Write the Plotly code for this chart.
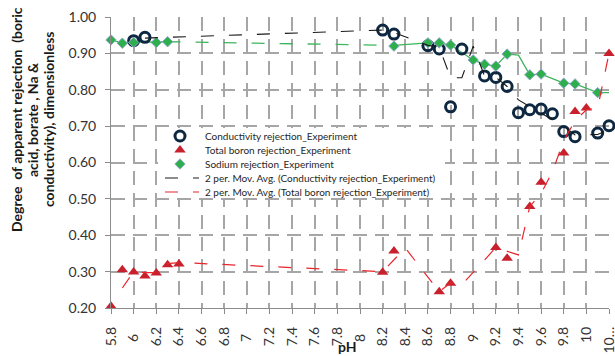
import plotly.graph_objects as go

# ---------------- data ----------------
x_ticks = [5.8, 6.0, 6.2, 6.4, 6.6, 6.8, 7.0, 7.2, 7.4, 7.6, 7.8, 8.0,
           8.2, 8.4, 8.6, 8.8, 9.0, 9.2, 9.4, 9.6, 9.8, 10.0, 10.2]
x_ticktext = ["5.8", "6", "6.2", "6.4", "6.6", "6.8", "7", "7.2", "7.4", "7.6", "7.8", "8",
              "8.2", "8.4", "8.6", "8.8", "9", "9.2", "9.4", "9.6", "9.8", "10", "10\u2026"]
y_ticks = [0.2, 0.3, 0.4, 0.5, 0.6, 0.7, 0.8, 0.9, 1.0]

cond_pH = [6.0, 6.1, 8.2, 8.3, 8.6, 8.7, 8.8, 8.9, 9.1, 9.2, 9.3, 9.4, 9.5, 9.6, 9.7, 9.8, 9.9, 10.1, 10.2]
cond_rej = [0.935, 0.944, 0.964, 0.953, 0.921, 0.912, 0.753, 0.912, 0.838, 0.834, 0.809, 0.737,
            0.745, 0.747, 0.734, 0.685, 0.671, 0.681, 0.701]

boron_pH = [5.8, 5.9, 6.0, 6.1, 6.2, 6.3, 6.4, 8.2, 8.3, 8.7, 8.8, 9.2, 9.3, 9.5, 9.6, 9.8, 9.9, 10.0, 10.2]
boron_rej = [0.205, 0.305, 0.299, 0.288, 0.296, 0.319, 0.321, 0.298, 0.357, 0.245, 0.268, 0.366,
             0.337, 0.479, 0.546, 0.626, 0.740, 0.750, 0.900]

sod_pH = [5.8, 5.9, 6.0, 6.2, 6.3, 8.3, 8.6, 8.7, 8.8, 9.0, 9.1, 9.2, 9.3, 9.5, 9.6, 9.8, 9.9, 10.1]
sod_rej = [0.937, 0.928, 0.930, 0.930, 0.932, 0.920, 0.929, 0.929, 0.923, 0.882, 0.870, 0.865,
           0.898, 0.841, 0.843, 0.818, 0.816, 0.792]

# green connecting line (as drawn in the source)
sod_line_pH = [5.8, 5.9, 6.0, 6.2, 6.3, 8.3, 8.6, 8.7, 8.8, 9.0, 9.1, 9.2, 9.3, 9.4, 9.5, 9.6, 9.8, 9.9, 10.1, 10.2]
sod_line_val = [0.937, 0.928, 0.930, 0.930, 0.932, 0.922, 0.929, 0.929, 0.923, 0.882, 0.870, 0.865,
                0.898, 0.895, 0.841, 0.843, 0.818, 0.816, 0.792, 0.792]

# 2 per. moving average lines (as drawn in the source)
cond_ma_pH = [6.1, 8.2, 8.3, 8.6, 8.7, 8.8, 8.9, 9.0, 9.1, 9.2, 9.3, 9.4, 9.8, 9.9, 10.1, 10.2]
cond_ma_val = [0.942, 0.964, 0.957, 0.922, 0.917, 0.833, 0.833, 0.920, 0.838, 0.834, 0.809, 0.772,
               0.700, 0.676, 0.677, 0.690]

boron_ma_pH = [5.9, 6.0, 6.1, 6.2, 6.3, 6.4, 8.2, 8.4, 8.7, 8.8, 8.9, 9.2, 9.4, 9.5, 9.6, 9.7,
               9.8, 9.9, 10.0, 10.1, 10.2]
boron_ma_val = [0.255, 0.300, 0.297, 0.297, 0.322, 0.325, 0.300, 0.365, 0.245, 0.269, 0.264, 0.366,
                0.346, 0.479, 0.515, 0.575, 0.660, 0.715, 0.745, 0.750, 0.900]

series_names = ["Conductivity rejection_Experiment",
                "Total boron rejection_Experiment",
                "Sodium rejection_Experiment",
                "2 per. Mov. Avg. (Conductivity rejection_Experiment)",
                "2 per. Mov. Avg. (Total boron rejection_Experiment)"]

# ---------------- styling ----------------
NB = "\u00a0"


def pad_label(t):
    n = len(t)
    k = 4 if n == 1 else (2 if n in (2, 3) else 0)
    return t + NB * k


FONT = "Lato"
GRID = "#A6A6A6"
DASH = "13px,15px"
C_COND = "#0E2841"
C_BOR = "#C8202C"
C_SOD = "#2DB04B"
C_SOD_EDGE = "#8EA6C8"
C_GLINE = "#3DB55C"
C_MA_COND = "#1A1A1A"
C_MA_BOR = "#E8262E"

cond_marker = dict(symbol="circle-open", size=10, color=C_COND, line=dict(width=3, color=C_COND))
bor_marker = dict(symbol="triangle-up", size=10, color=C_BOR)
sod_marker = dict(symbol="diamond", size=8, color=C_SOD, line=dict(width=1, color=C_SOD_EDGE))

L, R, T, B = 111, 6, 17, 48
W, H = 615, 356
pw, ph = W - L - R, H - T - B
XR = [5.8, 10.2]
YR = [0.2, 1.0]


def px_x(p):
    return (p - L) / pw


def px_y(p):
    return (H - B - p) / ph


def data_x(p):
    return XR[0] + (p - L) / pw * (XR[1] - XR[0])


def data_y(p):
    return YR[0] + (H - B - p) / ph * (YR[1] - YR[0])


fig = go.Figure()

# green line (sodium) - solid parts and dashed long gap part
g_solid_x = sod_line_pH[:5] + [None] + sod_line_pH[5:]
g_solid_y = sod_line_val[:5] + [None] + sod_line_val[5:]
fig.add_trace(go.Scatter(x=g_solid_x, y=g_solid_y, mode="lines", showlegend=False,
                         line=dict(color=C_GLINE, width=1.3), hoverinfo="skip", cliponaxis=False))
fig.add_trace(go.Scatter(x=sod_line_pH[4:6], y=sod_line_val[4:6], mode="lines", showlegend=False,
                         line=dict(color=C_GLINE, width=1.3, dash=DASH), hoverinfo="skip", cliponaxis=False))

fig.add_trace(go.Scatter(x=cond_pH, y=cond_rej, mode="markers", name=series_names[0],
                         marker=cond_marker, cliponaxis=False, showlegend=False))
fig.add_trace(go.Scatter(x=boron_pH, y=boron_rej, mode="markers", name=series_names[1],
                         marker=bor_marker, cliponaxis=False, showlegend=False))
fig.add_trace(go.Scatter(x=sod_pH, y=sod_rej, mode="markers", name=series_names[2],
                         marker=sod_marker, cliponaxis=False, showlegend=False))
fig.add_trace(go.Scatter(x=cond_ma_pH, y=cond_ma_val, mode="lines", name=series_names[3],
                         line=dict(color=C_MA_COND, width=1.1, dash=DASH), cliponaxis=False, showlegend=False))
fig.add_trace(go.Scatter(x=boron_ma_pH, y=boron_ma_val, mode="lines", name=series_names[4],
                         line=dict(color=C_MA_BOR, width=1.2, dash=DASH), cliponaxis=False, showlegend=False))

# ---- legend (drawn on an overlay axis measured in pixels) ----
LEG_ROWS = [136, 150, 164, 178, 192]
LEG_SYM_X = 180
LEG_LINE = [165, 199]
LEG_TEXT_X = 203
legend_styles = [("m", cond_marker), ("m", bor_marker), ("m", sod_marker),
                 ("l", dict(color=C_MA_COND, width=1.1, dash=DASH)),
                 ("l", dict(color=C_MA_BOR, width=1.2, dash=DASH))]
for (kind, sty), ry, nm in zip(legend_styles, LEG_ROWS, series_names):
    if kind == "m":
        fig.add_trace(go.Scatter(x=[LEG_SYM_X], y=[ry], mode="markers", marker=sty,
                                 xaxis="x2", yaxis="y2", showlegend=False, hoverinfo="skip",
                                 cliponaxis=False))
    else:
        fig.add_trace(go.Scatter(x=LEG_LINE, y=[ry, ry], mode="lines", line=sty,
                                 xaxis="x2", yaxis="y2", showlegend=False, hoverinfo="skip",
                                 cliponaxis=False))
    fig.add_annotation(text=nm, xref="x2", yref="y2", x=LEG_TEXT_X, y=ry,
                       xanchor="left", yanchor="middle", showarrow=False,
                       font=dict(family=FONT, size=10, color="#262626"))

# white legend background (covers the grid, below the data)
fig.add_shape(type="rect", xref="x", yref="y", layer="between",
              x0=data_x(158), x1=data_x(445), y0=data_y(198), y1=data_y(128),
              fillcolor="white", line=dict(width=0))

fig.update_layout(
    width=W, height=H,
    margin=dict(l=L, r=R, t=T, b=B, pad=0),
    paper_bgcolor="white", plot_bgcolor="white",
    font=dict(family=FONT, size=14, color="#333333"),
    showlegend=False,
    xaxis=dict(range=XR, tickmode="array", tickvals=x_ticks,
               ticktext=[pad_label(t) for t in x_ticktext], tickangle=-90,
               showgrid=True, gridcolor=GRID, gridwidth=1.5, griddash="14px,8px",
               zeroline=False, showline=True, linecolor="#8C8C8C", linewidth=1,
               ticks="outside", ticklen=5, tickcolor="#8C8C8C", tickwidth=1,
               automargin=False, ticklabeloverflow="allow",
               tickfont=dict(family=FONT, size=14, color="#333333")),
    yaxis=dict(range=YR, tickmode="array", tickvals=y_ticks,
               ticktext=["%.2f" % v for v in y_ticks],
               showgrid=True, gridcolor=GRID, gridwidth=1.5, griddash="14px,8px",
               zeroline=False, showline=True, linecolor="#8C8C8C", linewidth=1,
               ticks="outside", ticklen=5, tickcolor="#8C8C8C", tickwidth=1,
               ticklabelstandoff=6, automargin=False, ticklabeloverflow="allow",
               tickfont=dict(family=FONT, size=14, color="#333333")),
    xaxis2=dict(overlaying="x", range=[L, W - R], visible=False, fixedrange=True),
    yaxis2=dict(overlaying="y", range=[H - B, T], visible=False, fixedrange=True),
)

title_lines = ["Degree\u00a0 of apparent rejection\u00a0 (boric",
               "acid, borate , Na &amp;",
               "conductivity), dimensionless"]
title_x = [17, 33, 49]
for t, xp in zip(title_lines, title_x):
    fig.add_annotation(text="<b>%s</b>" % t, xref="paper", yref="paper",
                       x=px_x(xp), y=px_y(120), xanchor="center", yanchor="middle",
                       textangle=-90, showarrow=False,
                       font=dict(family=FONT, size=14, color="#1A1A1A"))

fig.add_annotation(text="<b>pH</b>", xref="paper", yref="paper", x=px_x(347), y=px_y(346),
                   xanchor="center", yanchor="middle", showarrow=False,
                   font=dict(family=FONT, size=14, color="#1A1A1A"))

fig.write_html("out.html", post_script="document.body.style.margin='0px';",
               config={"displayModeBar": False})
